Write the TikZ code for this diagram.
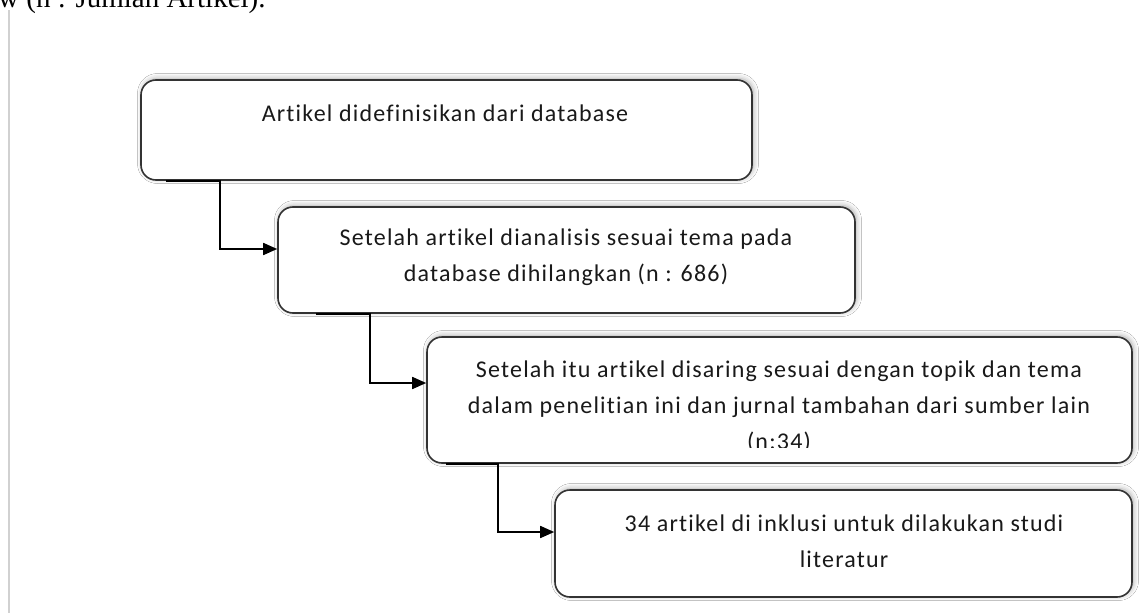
\documentclass[tikz,border=0pt]{standalone}
\usepackage{fontspec}
\setmainfont{Carlito}
\newfontfamily\boxfont[LetterSpace=5,Ligatures={NoCommon}]{Carlito}
\newfontfamily\capfont{Liberation Serif}
\usetikzlibrary{arrows.meta,shadows.blur}
\begin{document}
\begin{tikzpicture}[x=1pt,y=-1pt,
  box/.style={draw=black!80, line width=1.6pt, rounded corners=15pt, fill=white,
    blur shadow={shadow xshift=1.5pt, shadow yshift=1.5pt, shadow blur radius=5pt, shadow opacity=35},
    inner sep=0pt},
  txt/.style={font=\boxfont\fontsize{24}{36}\selectfont, text=black!90, align=center, inner sep=0pt},
  conn/.style={line width=1.7pt, draw=black, -{Triangle[length=14pt,width=12pt]}},
]
\useasboundingbox (0,0) rectangle (1143,613);
\fill[white] (0,0) rectangle (1143,613);

% caption fragment and page rule
\node[anchor=base west, font=\capfont\fontsize{29}{32}\selectfont, inner sep=0pt] (cap) at (-2,8) {w (n : Jumlah Artikel).};
\draw[line width=2pt, draw=black!18] (9,10) -- (9,613);

% boxes
\node[box, minimum width=611pt, minimum height=100pt] (b1) at (446.5,130) {};
\node[box, minimum width=577pt, minimum height=106pt] (b2) at (566.5,260) {};
\node[box, minimum width=705pt, minimum height=126pt] (b3) at (779.5,400) {};
\node[box, minimum width=577pt, minimum height=107pt] (b4) at (843.5,543.5) {};

% texts
\node[txt] (t1) at (445,113) {Artikel didefinisikan dari database};
\node[txt] (t2) at (566,257.5) {Setelah artikel dianalisis sesuai tema pada\\database dihilangkan (n : 686)};
\begin{scope}
\clip (428,338) rectangle (1131,447);
\node[txt] (t3) at (779,407) {Setelah itu artikel disaring sesuai dengan topik dan tema\\dalam penelitian ini dan jurnal tambahan dari sumber lain\\(n:34)};
\end{scope}
\node[txt] (t4) at (844,541) {34 artikel di inklusi untuk dilakukan studi\\literatur};

% connectors
\draw[conn] ([xshift=26pt]b1.south west) -- ([xshift=80pt]b1.south west) |- ([yshift=11pt]b2.west);
\draw[conn] ([xshift=39pt]b2.south west) -- ([xshift=93pt]b2.south west) |- ([yshift=17pt]b3.west);
\draw[conn] ([xshift=20pt]b3.south west) -- ([xshift=72pt]b3.south west) |- ([yshift=11.5pt]b4.west);
\end{tikzpicture}
\end{document}
